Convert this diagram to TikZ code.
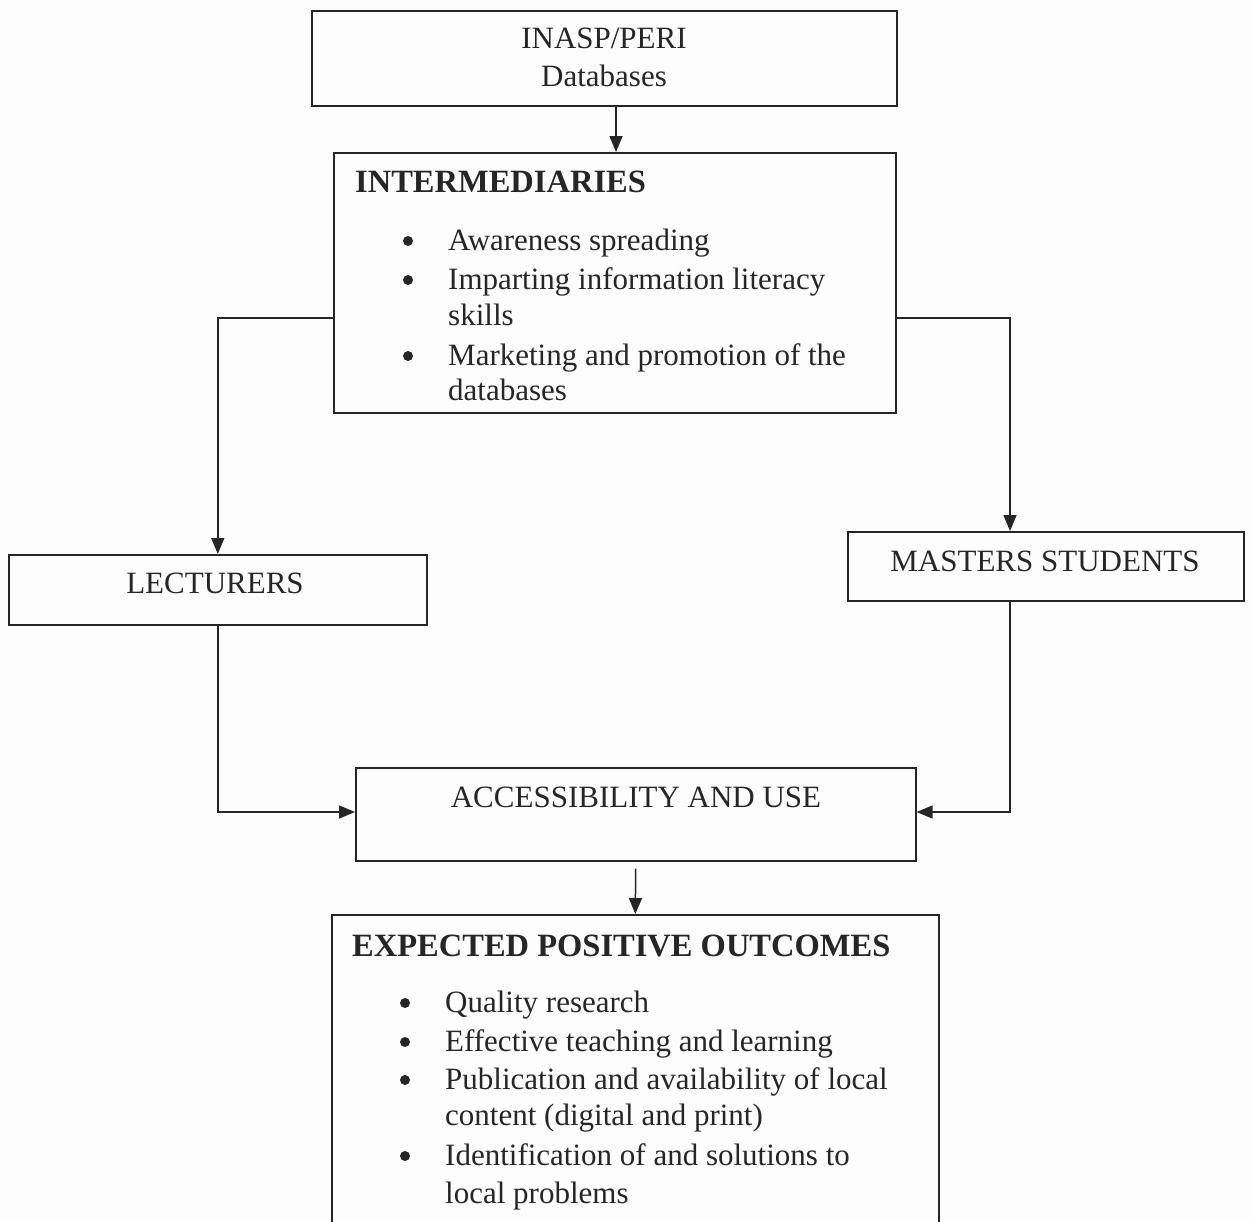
\documentclass[tikz,border=0pt]{standalone}
\usepackage{fontspec}
\setmainfont{Liberation Serif}
\usetikzlibrary{arrows.meta}
\definecolor{ink}{HTML}{262626}
\definecolor{paper}{HTML}{FDFDFD}
\tikzset{
  boxnode/.style={draw=ink, line width=1.6pt, rectangle, inner sep=0pt, anchor=north west},
  txt/.style={text=ink, inner sep=0pt, font=\fontsize{31}{36}\selectfont},
  bold/.style={txt, font=\fontsize{32.5}{36}\selectfont\bfseries},
  dot/.style={circle, fill=ink, inner sep=0pt, minimum size=10pt},
  conn/.style={draw=ink, line width=1.5pt, -{Triangle[length=16pt,width=13pt]}}
}
\begin{document}
\begin{tikzpicture}[x=1pt,y=-1pt]
\useasboundingbox (0,0) rectangle (1250,1221);
\clip (0,0) rectangle (1250,1221);
\fill[paper] (0,0) rectangle (1250,1221);

% boxes
\node[boxnode, minimum width=585pt, minimum height=95pt] (top) at (311,10) {};
\node[boxnode, minimum width=562pt, minimum height=260pt] (inter) at (333,152) {};
\node[boxnode, minimum width=418pt, minimum height=70pt] (lect) at (8,554) {};
\node[boxnode, minimum width=396pt, minimum height=69pt] (mast) at (847,531) {};
\node[boxnode, minimum width=560pt, minimum height=93pt] (acc) at (355,767) {};
\node[boxnode, minimum width=607pt, minimum height=340pt] (exp) at (331,914) {};

% helper coordinates
\coordinate (xA) at (616,0);
\coordinate (xR) at (1010,0);
\coordinate (yL) at (0,318);
\coordinate (yA) at (0,812);

% texts
\node[txt, anchor=base] (t1) at (604,48) {INASP/PERI};
\node[txt, anchor=base] (t2) at (604,86) {Databases};

\node[bold, anchor=base west] (ih) at (355,192) {INTERMEDIARIES};
\node[dot] (ib1) at (408,241) {};
\node[txt, anchor=base west] (i1) at (448,250) {Awareness spreading};
\node[dot] (ib2) at (408,280) {};
\node[txt, anchor=base west] (i2) at (448,289) {Imparting information literacy};
\node[txt, anchor=base west] (i2b) at (448,325) {skills};
\node[dot] (ib3) at (408,356) {};
\node[txt, anchor=base west] (i3) at (448,365) {Marketing and promotion of the};
\node[txt, anchor=base west] (i3b) at (448,400) {databases};

\node[txt, anchor=base] (tl) at (215,593) {LECTURERS};
\node[txt, anchor=base] (tm) at (1045,571) {MASTERS STUDENTS};
\node[txt, anchor=base] (ta) at (636,807) {ACCESSIBILITY AND USE};

\node[bold, anchor=base west] (eh) at (352,956) {EXPECTED POSITIVE OUTCOMES};
\node[dot] (eb1) at (405,1003) {};
\node[txt, anchor=base west] (e1) at (445,1012) {Quality research};
\node[dot] (eb2) at (405,1042) {};
\node[txt, anchor=base west] (e2) at (445,1051) {Effective teaching and learning};
\node[dot] (eb3) at (405,1080) {};
\node[txt, anchor=base west] (e3) at (445,1089) {Publication and availability of local};
\node[txt, anchor=base west] (e3b) at (445,1125) {content (digital and print)};
\node[dot] (eb4) at (405,1156) {};
\node[txt, anchor=base west] (e4) at (445,1165) {Identification of and solutions to};
\node[txt, anchor=base west] (e4b) at (445,1203) {local problems};

% connectors
\draw[conn] (top.south -| xA) -- (inter.north -| xA);
\draw[conn] (inter.west |- yL) -| (lect.north);
\draw[conn] (inter.east |- yL) -| (mast.north -| xR);
\draw[conn] (lect.south) |- (acc.west |- yA);
\draw[conn] (mast.south -| xR) |- (acc.east |- yA);
\draw[conn, shorten <=7pt] (acc.south) -- (exp.north);
\end{tikzpicture}
\end{document}
